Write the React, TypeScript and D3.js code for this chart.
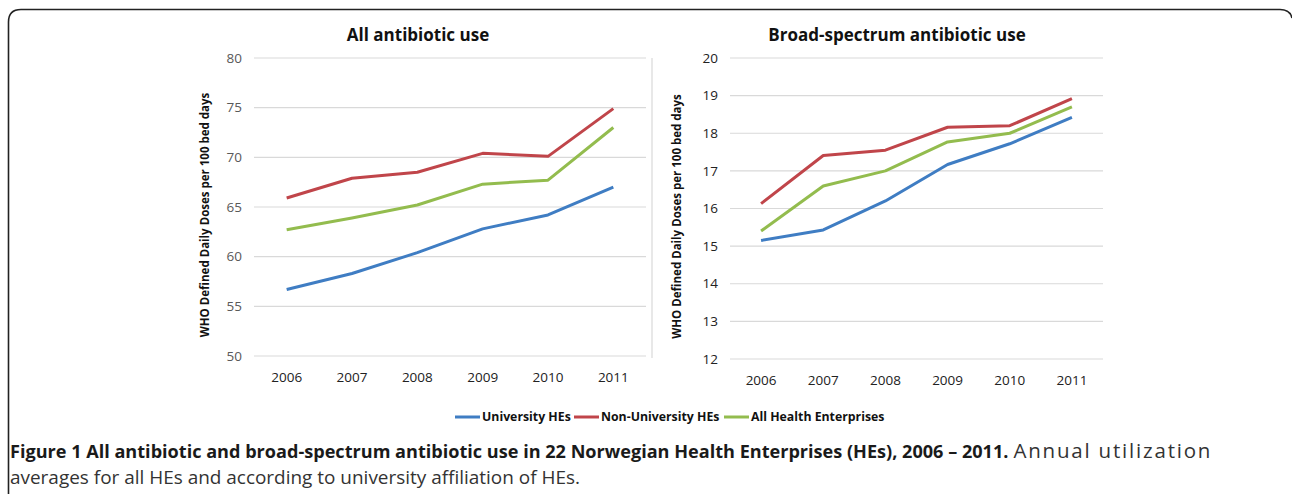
import * as d3 from 'd3'

// ─── Data ─────────────────────────────────────────────────────────────────────

const YEARS = ['2006', '2007', '2008', '2009', '2010', '2011']

const SERIES_NAMES = ['University HEs', 'Non-University HEs', 'All Health Enterprises']
const SERIES_COLORS = ['#3F7DC3', '#C0454A', '#93BC4E']

// All antibiotic use
const ALL_UNIVERSITY = [56.7, 58.3, 60.4, 62.8, 64.2, 67.0]
const ALL_NON_UNIVERSITY = [65.9, 67.9, 68.5, 70.4, 70.1, 74.9]
const ALL_TOTAL = [62.7, 63.9, 65.2, 67.3, 67.7, 73.0]
const ALL_TICKS = [50, 55, 60, 65, 70, 75, 80]

// Broad-spectrum antibiotic use
const BROAD_UNIVERSITY = [15.15, 15.43, 16.2, 17.17, 17.72, 18.42]
const BROAD_NON_UNIVERSITY = [16.13, 17.41, 17.55, 18.16, 18.2, 18.92]
const BROAD_TOTAL = [15.4, 16.6, 17.0, 17.77, 18.0, 18.7]
const BROAD_TICKS = [12, 13, 14, 15, 16, 17, 18, 19, 20]

const Y_TITLE = 'WHO Defined Daily Doses per 100 bed days'

// ─── Panel ────────────────────────────────────────────────────────────────────

interface PanelProps {
  title: string
  series: number[][]
  ticks: number[]
  x0: number; x1: number
  y0: number; y1: number
  titleX: number
  axisTitleX: number
  tickColor: string
}

function Panel({ title, series, ticks, x0, x1, y0, y1, titleX, axisTitleX, tickColor }: PanelProps) {
  const x = d3.scalePoint<string>().domain(YEARS).range([x0, x1]).padding(0.5)
  const y = d3.scaleLinear().domain(d3.extent(ticks) as [number, number]).range([y1, y0])
  const line = d3.line<number>()
    .x((_, i) => x(YEARS[i]) ?? 0)
    .y((d) => y(d))

  return (
    <g>
      <text x={titleX} y={41} textAnchor="middle" fontSize={17} fontWeight="bold" fill="#111">{title}</text>
      {ticks.map((t) => (
        <g key={t}>
          <line x1={x0} x2={x1} y1={y(t)} y2={y(t)} stroke="#D9D9D9" strokeWidth={1.2} />
          <text x={x0 - 12} y={y(t)} dy="0.35em" textAnchor="end" fontSize={13.5} fill={tickColor}>{t}</text>
        </g>
      ))}
      {YEARS.map((yr) => (
        <text key={yr} x={x(yr)} y={y1 + 26} textAnchor="middle" fontSize={13.5} fill="#222">{yr}</text>
      ))}
      <text
        transform={`translate(${axisTitleX},${(y0 + y1) / 2 + 8}) rotate(-90)`}
        textAnchor="middle" fontSize={11.5} fontWeight="bold" fill="#111"
      >{Y_TITLE}</text>
      {series.map((s, i) => (
        <path key={i} d={line(s) ?? ''} fill="none" stroke={SERIES_COLORS[i]} strokeWidth={3} strokeLinejoin="round" />
      ))}
    </g>
  )
}

// ─── App ──────────────────────────────────────────────────────────────────────

export default function App() {
  const legendX = [455, 574, 724]
  return (
    <svg
      width={1292} height={494}
      style={{ position: 'absolute', left: 0, top: 0, background: '#fff' }}
      fontFamily="'Open Sans', 'DejaVu Sans', sans-serif"
    >
      <path d="M8.5,520 V22 Q8.5,9.5 21,9.5 H1280 Q1290,9.5 1292,18" fill="none" stroke="#222" strokeWidth={1.6} />

      <Panel
        title="All antibiotic use"
        series={[ALL_UNIVERSITY, ALL_NON_UNIVERSITY, ALL_TOTAL]}
        ticks={ALL_TICKS}
        x0={254} x1={646} y0={58} y1={356}
        titleX={418} axisTitleX={209} tickColor="#595959"
      />
      <line x1={652} x2={652} y1={58} y2={358} stroke="#D9D9D9" strokeWidth={1.2} />
      <Panel
        title="Broad-spectrum antibiotic use"
        series={[BROAD_UNIVERSITY, BROAD_NON_UNIVERSITY, BROAD_TOTAL]}
        ticks={BROAD_TICKS}
        x0={730} x1={1103} y0={58} y1={359}
        titleX={897} axisTitleX={681} tickColor="#222"
      />

      {SERIES_NAMES.map((name, i) => (
        <g key={name}>
          <line x1={legendX[i]} x2={legendX[i] + 25} y1={417} y2={417} stroke={SERIES_COLORS[i]} strokeWidth={3} />
          <text x={legendX[i] + 27} y={417} dy="0.35em" fontSize={12.3} fontWeight="bold" fill="#111">{name}</text>
        </g>
      ))}

      <text x={10} y={458} fontSize={18.1} fill="#1a1a1a">
        <tspan fontWeight="bold">Figure 1 All antibiotic and broad-spectrum antibiotic use in 22 Norwegian Health Enterprises (HEs), 2006 – 2011.</tspan>
        <tspan dx={5} fontSize={20.5} letterSpacing={1.8} fill="#333">Annual utilization</tspan>
      </text>
      <text x={10} y={484} fontSize={19} fill="#333" textLength={570} lengthAdjust="spacingAndGlyphs">
        averages for all HEs and according to university affiliation of HEs.
      </text>
    </svg>
  )
}
